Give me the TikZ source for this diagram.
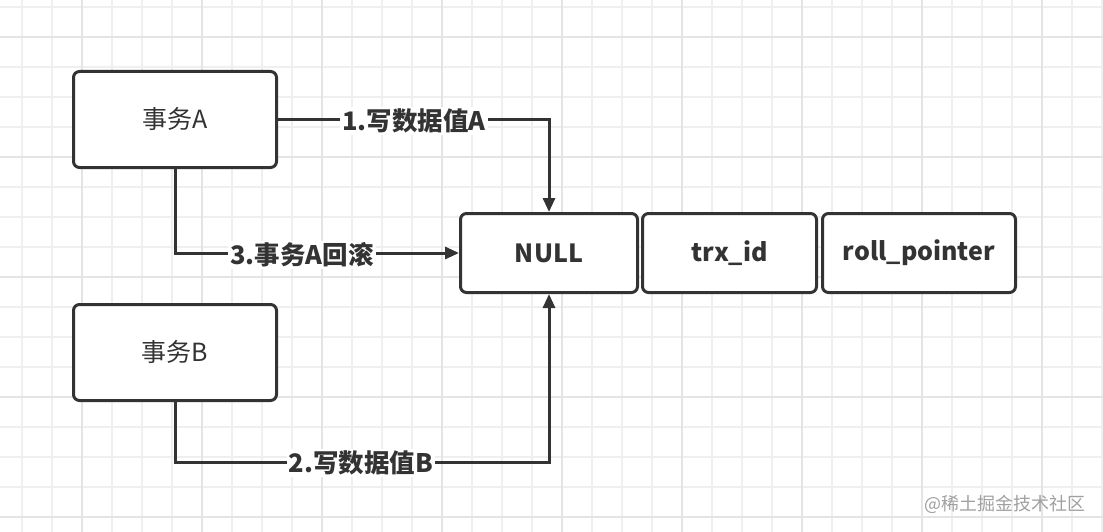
\documentclass[tikz,border=0pt]{standalone}
\usepackage{fontspec}
\setmainfont{Noto Sans CJK SC}
\usetikzlibrary{arrows.meta}
\definecolor{ink}{HTML}{333333}
\definecolor{gridminor}{HTML}{EFEFEF}
\definecolor{gridmajor}{HTML}{E4E4E4}
\definecolor{wm}{HTML}{A0A0A0}
\tikzset{
  box/.style={draw=ink, line width=3pt, rounded corners=6pt, fill=white, text=ink, inner sep=0pt, font=\fontsize{25}{30}\selectfont},
  fieldbox/.style={box, font=\fontsize{25}{30}\selectfont\bfseries},
  conn/.style={draw=ink, line width=3pt, -{Triangle[length=14pt,width=12pt]}},
  lbl/.style={fill=white, text=ink, inner sep=2pt, font=\fontsize{25.5}{30}\selectfont\bfseries},
}
\begin{document}
\begin{tikzpicture}[x=1pt,y=-1pt]
\useasboundingbox (0,0) rectangle (1103,532);
\fill[white] (0,0) rectangle (1103,532);
\foreach \x in {22,52,...,1102} \draw[gridminor, line width=1.2pt] (\x,0) -- (\x,532);
\foreach \y in {7,37,...,532} \draw[gridminor, line width=1.2pt] (0,\y) -- (1103,\y);
\foreach \x in {82,202,...,1102} \draw[gridmajor, line width=1.5pt] (\x,0) -- (\x,532);
\foreach \y in {37,157,...,532} \draw[gridmajor, line width=1.5pt] (0,\y) -- (1103,\y);

\node[box, minimum width=203pt, minimum height=96pt] (A) at (175,119.5) {事务A};
\node[box, minimum width=203pt, minimum height=96pt] (B) at (175,352.5) {事务B};
\node[fieldbox, minimum width=177pt, minimum height=79pt] (N) at (549,253) {NULL};
\node[fieldbox, minimum width=174pt, minimum height=79pt] (T) at (729.5,253) {trx\_id};
\node[fieldbox, minimum width=193pt, minimum height=79pt] (R) at (919,253) {roll\_pointer};

\coordinate (b1) at (175,462);
\coordinate (b2) at (549,462);

\draw[conn] (A.east) -| (N.north);
\draw[conn] (A.south) |- (N.west);
\draw[conn] (B.south) -- (b1) -- (b2) -- (N.south);

\node[lbl] (l1) at (414,121) {1.写数据值A};
\node[lbl] (l3) at (302,255) {3.事务A回滚};
\node[lbl] (l2) at (361,463) {2.写数据值B};

\node[text=wm, anchor=east, inner sep=0pt, font=\fontsize{18}{20}\selectfont] (w) at (1086,504) {@稀土掘金技术社区};
\end{tikzpicture}
\end{document}
